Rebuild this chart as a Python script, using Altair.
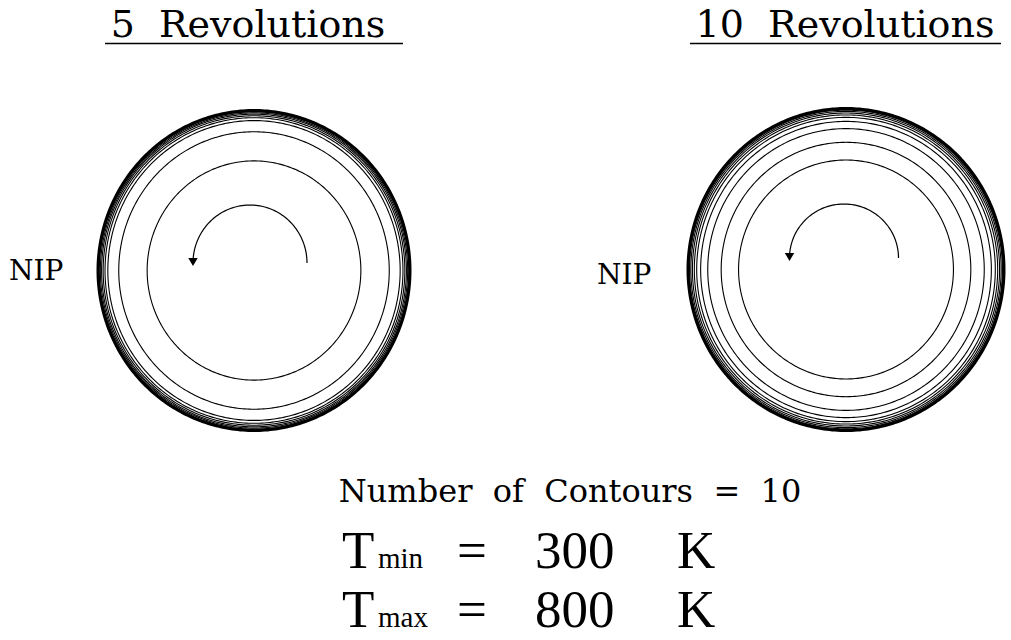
import numpy as np
import pandas as pd
import altair as alt

# ---- values ---------------------------------------------------------------
PANEL_TITLES = ["5 Revolutions", "10 Revolutions"]
SIDE_LABEL = "NIP"
# contour radii as a fraction of the disc radius, inner to outer
RINGS_5REV = [0.685, 0.867, 0.937, 0.955, 0.967, 0.977, 0.985, 0.992, 0.997, 1.0]
RINGS_10REV = [0.68, 0.79, 0.875, 0.92, 0.945, 0.96, 0.972, 0.982, 0.99, 0.996, 1.0]
N_CONTOURS = 10
T_MIN = 300
T_MAX = 800
T_UNIT = "K"

# ---- layout (pixel frame, y grows downward) -------------------------------
W, H = 1011, 640
PANELS = [
    dict(rings=RINGS_5REV, cx=254, cy=270.5, rx=156, ry=160,
         acx=250, acy=263, arx=57, ary=58,
         title_x=248, ul=(105, 403), label_x=9, label_y=280),
    dict(rings=RINGS_10REV, cx=846, cy=269.5, rx=158, ry=161,
         acx=844, acy=258, arx=54.5, ary=54,
         title_x=845, ul=(690, 1001), label_x=597, label_y=284),
]

X = lambda f="x": alt.X(f"{f}:Q", scale=alt.Scale(domain=[0, W], nice=False, zero=False), axis=None)
Y = lambda f="y": alt.Y(f"{f}:Q", scale=alt.Scale(domain=[0, H], nice=False, zero=False, reverse=True), axis=None)

# contour rings traced as closed polylines
theta = np.linspace(0, 2 * np.pi, 361)
ring_rows = []
for p_i, p in enumerate(PANELS):
    for r_i, r in enumerate(p["rings"]):
        outer = r_i == len(p["rings"]) - 1
        for k, t in enumerate(theta):
            ring_rows.append(dict(ring=f"{p_i}-{r_i}", k=k, outer=outer,
                                  x=p["cx"] + p["rx"] * r * np.cos(t),
                                  y=p["cy"] + p["ry"] * r * np.sin(t)))
rings = pd.DataFrame(ring_rows)

inner_rings = alt.Chart(rings[~rings.outer]).mark_line(
    color="black", strokeWidth=1.1, interpolate="linear"
).encode(x=X(), y=Y(), detail="ring:N", order="k:Q")

outer_rings = alt.Chart(rings[rings.outer]).mark_line(
    color="black", strokeWidth=3.0, interpolate="linear"
).encode(x=X(), y=Y(), detail="ring:N", order="k:Q")

# rotation arrows: half-circle arc over the top, head on the left end
phi = np.linspace(0, np.pi, 91)
arc_rows, head_rows = [], []
for p_i, p in enumerate(PANELS):
    for k, t in enumerate(phi):
        arc_rows.append(dict(arc=p_i, k=k,
                             x=p["acx"] + p["arx"] * np.cos(t),
                             y=p["acy"] - p["ary"] * np.sin(t)))
    head_rows.append(dict(x=p["acx"] - p["arx"], y=p["acy"] - 1))
arcs = alt.Chart(pd.DataFrame(arc_rows)).mark_line(
    color="black", strokeWidth=1.2
).encode(x=X(), y=Y(), detail="arc:N", order="k:Q")
heads = alt.Chart(pd.DataFrame(head_rows)).mark_point(
    shape="triangle-down", filled=True, color="black", size=90, opacity=1
).encode(x=X(), y=Y())

# panel titles with underlines
titles = alt.Chart(pd.DataFrame(
    dict(text=PANEL_TITLES, x=[p["title_x"] for p in PANELS], y=[37, 37])
)).mark_text(font="DejaVu Serif", fontSize=38, align="center",
             baseline="alphabetic", color="black").encode(
    x=X(), y=Y(), text="text:N")
titles = titles.transform_calculate(text="replace(datum.text, ' ', '\u00a0\u00a0')")

underlines = alt.Chart(pd.DataFrame(
    dict(x=[p["ul"][0] for p in PANELS], x2=[p["ul"][1] for p in PANELS], y=[43.5, 43.5])
)).mark_rule(color="black", strokeWidth=1.3).encode(x=X(), x2="x2:Q", y=Y())

labels = alt.Chart(pd.DataFrame(
    dict(text=[SIDE_LABEL] * 2, x=[p["label_x"] for p in PANELS], y=[p["label_y"] for p in PANELS])
)).mark_text(font="DejaVu Serif", fontSize=28, align="left",
             baseline="alphabetic", color="black").encode(
    x=X(), y=Y(), text="text:N")

# contour summary
nb = "\u00a0\u00a0"
summary = alt.Chart(pd.DataFrame(
    dict(text=[f"Number{nb}of{nb}Contours{nb}={nb}{N_CONTOURS}"], x=[570], y=[502])
)).mark_text(font="DejaVu Serif", fontSize=32, align="center",
             baseline="alphabetic", color="black").encode(
    x=X(), y=Y(), text="text:N")

big_rows = []
sub_rows = []
for name, val, base in [("min", T_MIN, 568), ("max", T_MAX, 627)]:
    big_rows += [dict(text="T", x=342, y=base),
                 dict(text="=", x=457, y=base),
                 dict(text=str(val), x=535, y=base),
                 dict(text=T_UNIT, x=677, y=base)]
    sub_rows.append(dict(text=name, x=378, y=base))

big = alt.Chart(pd.DataFrame(big_rows)).mark_text(
    font="Liberation Serif", fontSize=53, align="left", baseline="alphabetic",
    color="black"
).encode(x=X(), y=Y(), text="text:N")
sub = alt.Chart(pd.DataFrame(sub_rows)).mark_text(
    font="Liberation Serif", fontSize=29, align="left", baseline="alphabetic",
    color="black"
).encode(x=X(), y=Y(), text="text:N")

chart = alt.layer(
    inner_rings, outer_rings, arcs, heads, underlines, titles, labels, summary, big, sub
).properties(
    width=W, height=H, autosize=alt.AutoSizeParams(type="none"), padding=0,
    background="white"
).configure_view(stroke=None)

chart.save("out.html", embed_options={"renderer": "svg", "actions": False})
